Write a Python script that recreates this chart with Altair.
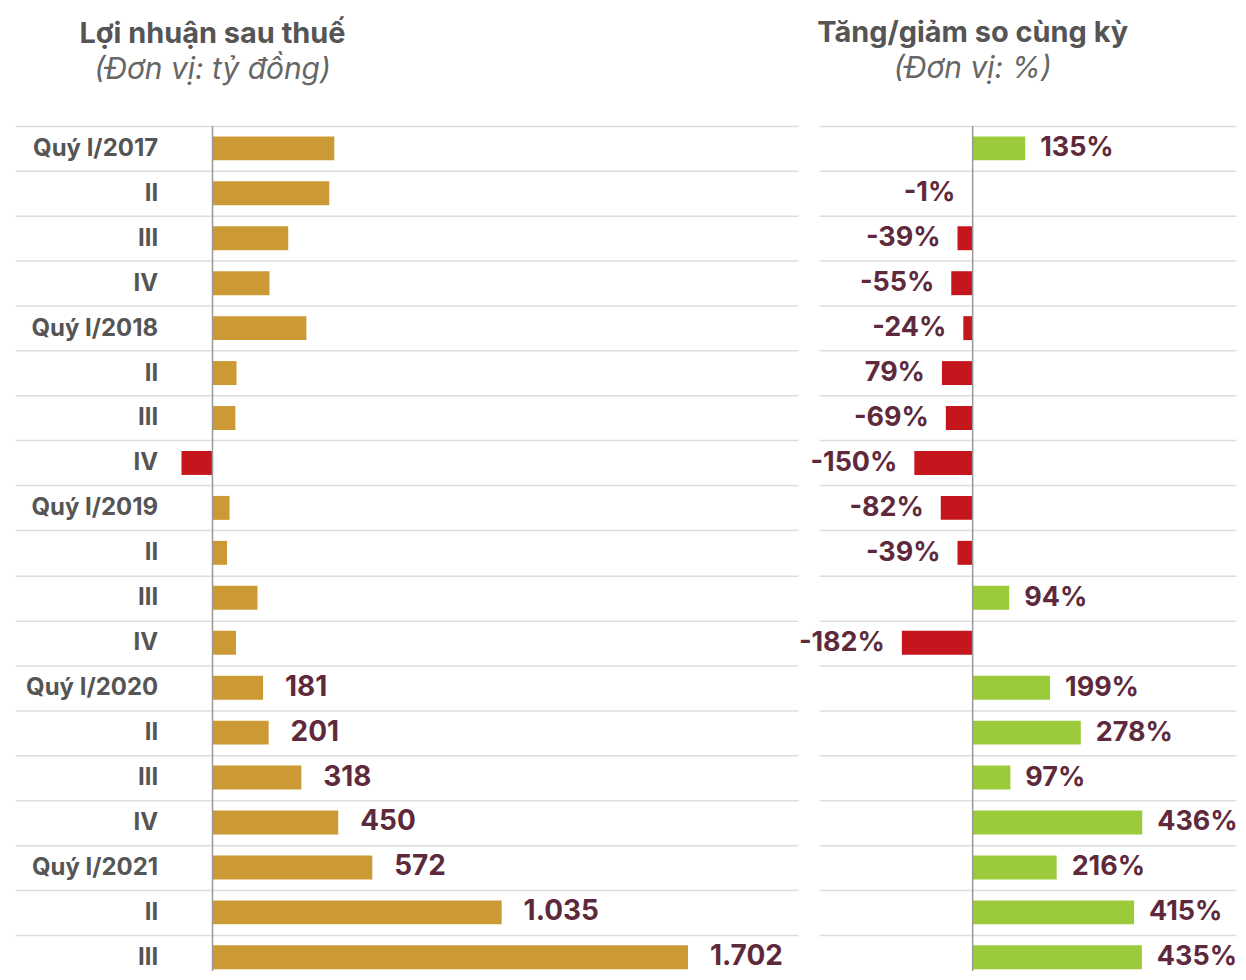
import altair as alt
import pandas as pd

# Row labels (display) for each quarter
quarters = ["Quý I/2017", "II", "III", "IV",
            "Quý I/2018", "II", "III", "IV",
            "Quý I/2019", "II", "III", "IV",
            "Quý I/2020", "II", "III", "IV",
            "Quý I/2021", "II", "III"]

# Lợi nhuận sau thuế (tỷ đồng)
profit = [436, 418, 271, 204,
          336, 86, 82, -111,
          61, 52, 161, 84,
          181, 201, 318, 450,
          572, 1035, 1702]
profit_labels = ["", "", "", "",
                 "", "", "", "",
                 "", "", "", "",
                 "181", "201", "318", "450",
                 "572", "1.035", "1.702"]

# Tăng/giảm so cùng kỳ (%)
yoy = [135, -1, -39, -55,
       -24, -79, -69, -150,
       -82, -39, 94, -182,
       199, 278, 97, 436,
       216, 415, 435]
yoy_labels = ["135%", "-1%", "-39%", "-55%",
              "-24%", "79%", "-69%", "-150%",
              "-82%", "-39%", "94%", "-182%",
              "199%", "278%", "97%", "436%",
              "216%", "415%", "435%"]

keys = [f"{q}|{i}" for i, q in enumerate(quarters)]
df = pd.DataFrame({"key": keys, "profit": profit, "plabel": profit_labels,
                   "yoy": yoy, "ylabel": yoy_labels})

FONT = "Inter"
GOLD = "#CC9A35"
RED = "#C4161C"
GREEN = "#9BCB3B"
LABEL = "#5E2A3B"
GRID = "#DEDEDE"
ZERO = "#999999"
H = 856

y_left = alt.Y("key:N", sort=keys, title=None,
               scale=alt.Scale(paddingInner=0, paddingOuter=0),
               axis=alt.Axis(grid=True, tickBand="extent", ticks=False, domain=False,
                             gridColor=GRID, gridWidth=1.5,
                             labelExpr="split(datum.label, '|')[0]",
                             labelPadding=-143, labelAlign="right",
                             labelFont=FONT, labelFontSize=24, labelFontWeight="bold",
                             labelColor="#555555"))
y_right = alt.Y("key:N", sort=keys, title=None,
                scale=alt.Scale(paddingInner=0, paddingOuter=0),
                axis=alt.Axis(grid=True, tickBand="extent", ticks=False, domain=False,
                              labels=False, gridColor=GRID, gridWidth=1.5))
y_plain = alt.Y("key:N", sort=keys, title=None)


def title(text, sub, dx, offset):
    return alt.TitleParams(text=text, subtitle=sub,
                           anchor="start", frame="group", align="center", dx=dx,
                           font=FONT, fontSize=29, fontWeight="bold", color="#555555",
                           subtitleFont=FONT, subtitleFontSize=30, subtitleFontStyle="italic",
                           subtitleFontWeight="normal",
                           subtitleColor="#666666", subtitlePadding=6, offset=offset)


base_l = alt.Chart(df)
xl = alt.Scale(domain=[-707, 2096], nice=False, zero=False)
bars_l = base_l.mark_bar(size=24).encode(
    y=y_left,
    x=alt.X("profit:Q", scale=xl, axis=None),
    color=alt.condition("datum.profit >= 0", alt.value(GOLD), alt.value(RED)),
)
zero_l = alt.Chart(pd.DataFrame({"z": [0]})).mark_rule(color=ZERO, strokeWidth=1.5).encode(
    x=alt.X("z:Q", scale=xl, axis=None))
text_l = base_l.transform_filter("datum.plabel != ''").mark_text(
    align="left", baseline="middle", dx=22, font=FONT, fontSize=28,
    fontWeight="bold", color=LABEL).encode(
    y=y_plain, x=alt.X("profit:Q", scale=xl, axis=None), text="plabel:N")

left = alt.layer(bars_l, zero_l, text_l).properties(
    width=785, height=H,
    title=title("Lợi nhuận sau thuế", "(Đơn vị: tỷ đồng)", 198, 29))

base_r = alt.Chart(df)
xr = alt.Scale(domain=[-395, 677], nice=False, zero=False)
bars_r = base_r.mark_bar(size=24).encode(
    y=y_right,
    x=alt.X("yoy:Q", scale=xr, axis=None),
    color=alt.condition("datum.yoy >= 0", alt.value(GREEN), alt.value(RED)),
)
zero_r = alt.Chart(pd.DataFrame({"z": [0]})).mark_rule(color=ZERO, strokeWidth=1.5).encode(
    x=alt.X("z:Q", scale=xr, axis=None))
text_rp = base_r.transform_filter("datum.yoy >= 0").mark_text(
    align="left", baseline="middle", dx=15, font=FONT, fontSize=27,
    fontWeight="bold", color=LABEL).encode(
    y=y_plain, x=alt.X("yoy:Q", scale=xr, axis=None), text="ylabel:N")
text_rn = base_r.transform_filter("datum.yoy < 0").mark_text(
    align="right", baseline="middle", dx=-17, font=FONT, fontSize=27,
    fontWeight="bold", color=LABEL).encode(
    y=y_plain, x=alt.X("yoy:Q", scale=xr, axis=None), text="ylabel:N")

right = alt.layer(bars_r, zero_r, text_rp, text_rn).properties(
    width=418, height=H,
    title=title("Tăng/giảm so cùng kỳ", "(Đơn vị: %)", 154, 41))

chart = alt.hconcat(left, right, spacing=21, bounds="flush").properties(
    padding={"left": 7, "top": 10, "right": 0, "bottom": -11},
    background="white",
).configure_view(stroke=None, strokeWidth=0)

chart.save("out.html", embed_options={"renderer": "svg", "actions": False})
